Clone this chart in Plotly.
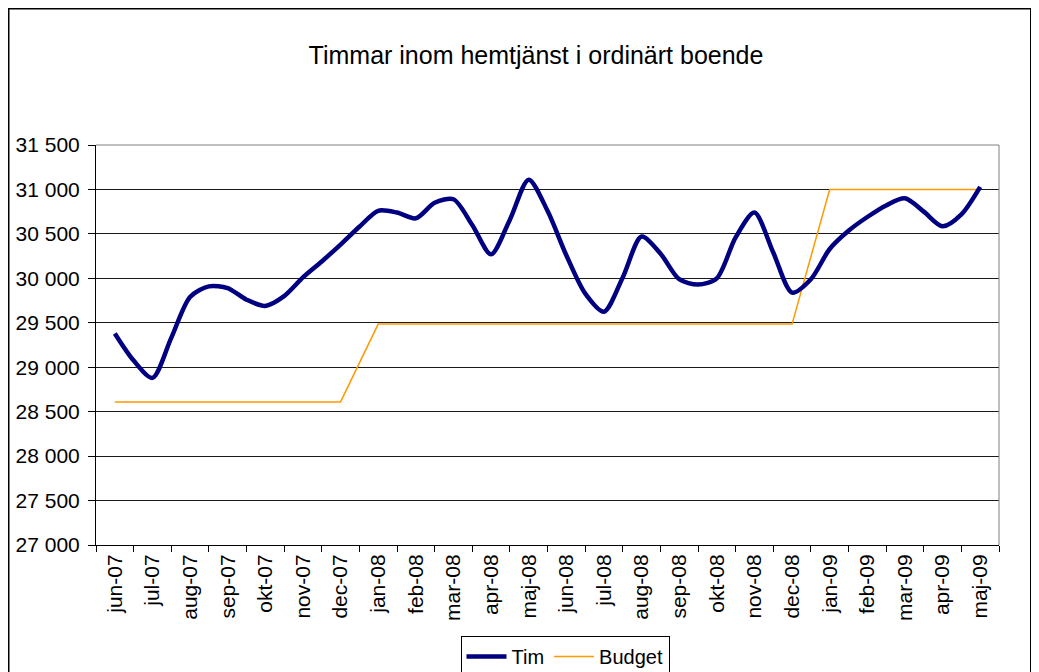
import plotly.graph_objects as go

months = ["jun-07", "jul-07", "aug-07", "sep-07", "okt-07", "nov-07", "dec-07",
          "jan-08", "feb-08", "mar-08", "apr-08", "maj-08", "jun-08", "jul-08",
          "aug-08", "sep-08", "okt-08", "nov-08", "dec-08", "jan-09", "feb-09",
          "mar-09", "apr-09", "maj-09"]

budget = [28610, 28610, 28610, 28610, 28610, 28610, 28610,
          29485, 29485, 29485, 29485, 29485, 29485, 29485, 29485, 29485, 29485,
          29485, 29485,
          31000, 31000, 31000, 31000, 31000]

# Tim: read at half-month steps (position in month index)
tim_pos = [i * 0.5 for i in range(47)]
tim = [29380, 29075, 28880, 29330, 29790, 29910, 29890, 29760, 29690, 29800,
       30010, 30190, 30380, 30580, 30760, 30740, 30675, 30850, 30890, 30600,
       30270, 30660, 31110, 30760, 30260, 29830, 29625, 30010, 30470, 30280,
       29990, 29930, 30000, 30460, 30740, 30290, 29840, 29990, 30330, 30535,
       30690, 30820, 30900, 30750, 30585, 30720, 31030]

y_ticks = list(range(27000, 31501, 500))

FONT = "Liberation Sans, Arial, sans-serif"

fig = go.Figure()
fig.add_trace(go.Scatter(
    x=tim_pos, y=tim, name="Tim", xaxis="x2", yaxis="y",
    mode="lines", line=dict(color="#000080", width=4.5, shape="spline", smoothing=0.8),
))
fig.add_trace(go.Scatter(
    x=months, y=budget, name="Budget", xaxis="x", yaxis="y",
    mode="lines", line=dict(color="#FF9900", width=1.5),
))

OFF = 8  # page body margin
L, R, T, B = 96 - OFF, 999 - OFF, 145 - OFF, 545 - OFF
W, H = 1039 - OFF, 672 - OFF
pw, ph = R - L, B - T

def px(xp):
    return (xp - OFF - L) / pw

def py(yp):
    return (B - (yp - OFF)) / ph

fig.update_layout(
    width=W, height=H,
    margin=dict(l=L, r=W - R, t=T, b=H - B, pad=0, autoexpand=False),
    paper_bgcolor="white", plot_bgcolor="white",
    separators=", ",
    font=dict(family=FONT, size=21, color="black"),
    showlegend=True,
    title=dict(text="Timmar inom hemtjänst i ordinärt boende",
               x=px(536), xref="paper", xanchor="center",
               y=1 - (55 - OFF) / H, yref="container", yanchor="middle",
               font=dict(family=FONT, size=25, color="black")),
    xaxis=dict(type="category", categoryorder="array", categoryarray=months,
               range=[-0.5, 23.5], tickson="boundaries",
               ticks="outside", ticklen=6, tickcolor="black", tickwidth=1,
               showline=True, linecolor="black", linewidth=1,
               showgrid=False, tickangle=-90, tickfont=dict(size=21),
               fixedrange=True, automargin=False),
    xaxis2=dict(overlaying="x", range=[-0.5, 23.5], visible=False,
                showgrid=False, zeroline=False),
    yaxis=dict(range=[27000, 31500], tickvals=y_ticks, tickformat=",d",
               ticks="outside", ticklen=7, tickcolor="black",
               showline=True, linecolor="black", linewidth=1,
               showgrid=True, gridcolor="#1a1a1a", gridwidth=1,
               zeroline=False, tickfont=dict(size=21), ticklabelstandoff=4,
               automargin=False),
    legend=dict(orientation="h", x=px(565), xanchor="center",
                y=py(636), yanchor="top", bordercolor="black", borderwidth=1,
                bgcolor="white", font=dict(size=20), itemwidth=40,
                tracegroupgap=0),
    shapes=[
        dict(type="line", xref="paper", yref="paper", x0=0, x1=1, y0=1, y1=1,
             line=dict(color="#808080", width=1)),
        dict(type="line", xref="paper", yref="paper", x0=1, x1=1, y0=0, y1=1,
             line=dict(color="#808080", width=1)),
        dict(type="rect", xref="paper", yref="paper",
             x0=px(8.5), x1=px(1031), y0=py(700), y1=py(8.5),
             line=dict(color="black", width=2), fillcolor="rgba(0,0,0,0)"),
    ],
)

fig.write_html("out.html")
